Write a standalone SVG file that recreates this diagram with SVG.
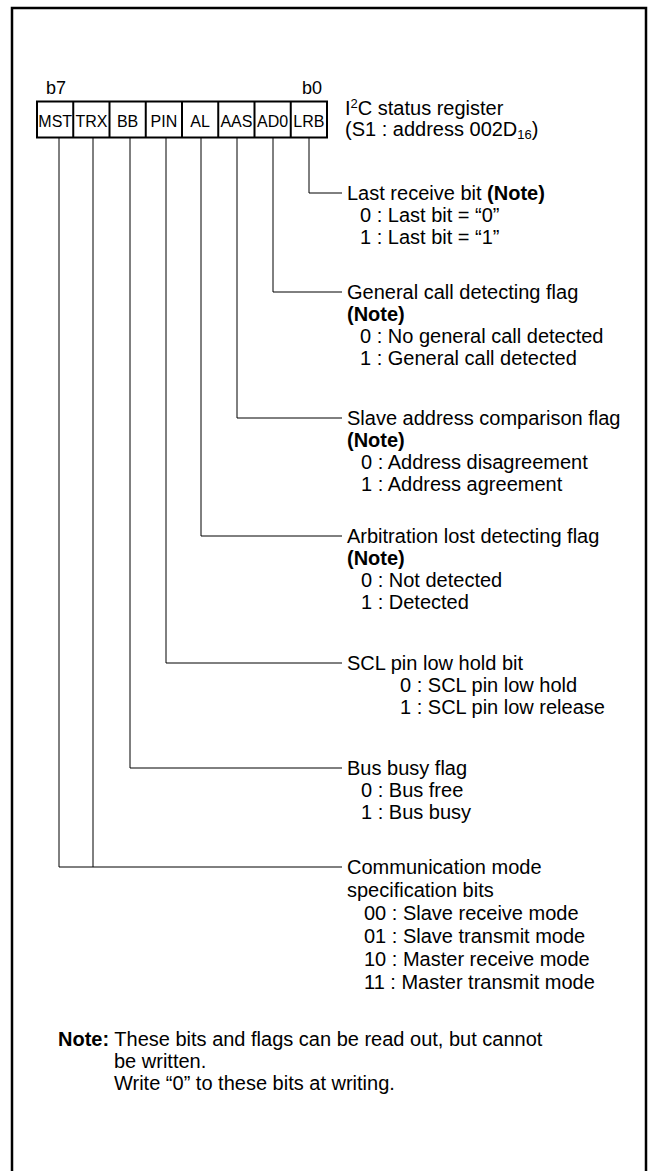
<svg xmlns="http://www.w3.org/2000/svg" width="648" height="1171" viewBox="0 0 648 1171">
<style>
text{font-family:"Liberation Sans",Arial,Helvetica,sans-serif;fill:#000}
.d{font-size:20px}
.c{font-size:16px;text-anchor:middle}
.b{font-size:18px}
.bold{font-weight:bold}
.con{fill:none;stroke:#000;stroke-width:1}
.cell{fill:#fff;stroke:#000;stroke-width:2}
</style>
<rect width="648" height="1171" fill="#fff"/>
<path d="M12,1171 V8 H646 V1171" fill="none" stroke="#000" stroke-width="2.5"/>
<g id="register">
<text class="b" x="46" y="94">b7</text>
<text class="b" x="302" y="94">b0</text>
<rect class="cell" x="37" y="101.5" width="290" height="36"/>
<path d="M73.25,101.5V137.5M109.5,101.5V137.5M145.75,101.5V137.5M182,101.5V137.5M218.25,101.5V137.5M254.5,101.5V137.5M290.75,101.5V137.5" stroke="#000" stroke-width="2"/>
<text class="c" x="55.2" y="127">MST</text>
<text class="c" x="91.4" y="127">TRX</text>
<text class="c" x="127.6" y="127">BB</text>
<text class="c" x="163.9" y="127">PIN</text>
<text class="c" x="200.1" y="127">AL</text>
<text class="c" x="236.4" y="127">AAS</text>
<text class="c" x="272.6" y="127">AD0</text>
<text class="c" x="308.9" y="127">LRB</text>
<text class="d" x="345" y="115">I<tspan font-size="13" dy="-7">2</tspan><tspan dy="7">C status register</tspan></text>
<text class="d" x="345" y="136">(S1 : address 002D<tspan font-size="13" dy="3">16</tspan><tspan dy="-3">)</tspan></text>
</g>
<g id="connectors">
<path class="con" d="M309,137.5V193H342"/>
<path class="con" d="M273,137.5V292H342"/>
<path class="con" d="M237,137.5V418H342"/>
<path class="con" d="M201,137.5V536H342"/>
<path class="con" d="M166,137.5V663H342"/>
<path class="con" d="M130,137.5V768H342"/>
<path class="con" d="M93,137.5V867"/>
<path class="con" d="M59,137.5V867H342"/>
</g>
<g id="lrb">
<text class="d" x="347" y="200">Last receive bit <tspan class="bold">(Note)</tspan></text>
<text class="d" x="360" y="222">0 : Last bit = “0”</text>
<text class="d" x="360" y="244">1 : Last bit = “1”</text>
</g>
<g id="ad0">
<text class="d" x="347" y="299">General call detecting flag</text>
<text class="d bold" x="347" y="321">(Note)</text>
<text class="d" x="360" y="343">0 : No general call detected</text>
<text class="d" x="360" y="365">1 : General call detected</text>
</g>
<g id="aas">
<text class="d" x="347" y="425">Slave address comparison flag</text>
<text class="d bold" x="347" y="447">(Note)</text>
<text class="d" x="361" y="469">0 : Address disagreement</text>
<text class="d" x="361" y="491">1 : Address agreement</text>
</g>
<g id="al">
<text class="d" x="347" y="543">Arbitration lost detecting flag</text>
<text class="d bold" x="347" y="565">(Note)</text>
<text class="d" x="361" y="587">0 : Not detected</text>
<text class="d" x="361" y="609">1 : Detected</text>
</g>
<g id="pin">
<text class="d" x="347" y="670">SCL pin low hold bit</text>
<text class="d" x="400" y="692">0 : SCL pin low hold</text>
<text class="d" x="400" y="714">1 : SCL pin low release</text>
</g>
<g id="bb">
<text class="d" x="347" y="775">Bus busy flag</text>
<text class="d" x="361" y="797">0 : Bus free</text>
<text class="d" x="361" y="819">1 : Bus busy</text>
</g>
<g id="mst-trx">
<text class="d" x="347" y="874">Communication mode</text>
<text class="d" x="347" y="897">specification bits</text>
<text class="d" x="364" y="920">00 : Slave receive mode</text>
<text class="d" x="364" y="943">01 : Slave transmit mode</text>
<text class="d" x="364" y="966">10 : Master receive mode</text>
<text class="d" x="364" y="989">11 : Master transmit mode</text>
</g>
<g id="note">
<text class="d" x="58" y="1046"><tspan class="bold">Note:</tspan> These bits and flags can be read out, but cannot</text>
<text class="d" x="114" y="1068">be written.</text>
<text class="d" x="114" y="1090">Write “0” to these bits at writing.</text>
</g>
</svg>
